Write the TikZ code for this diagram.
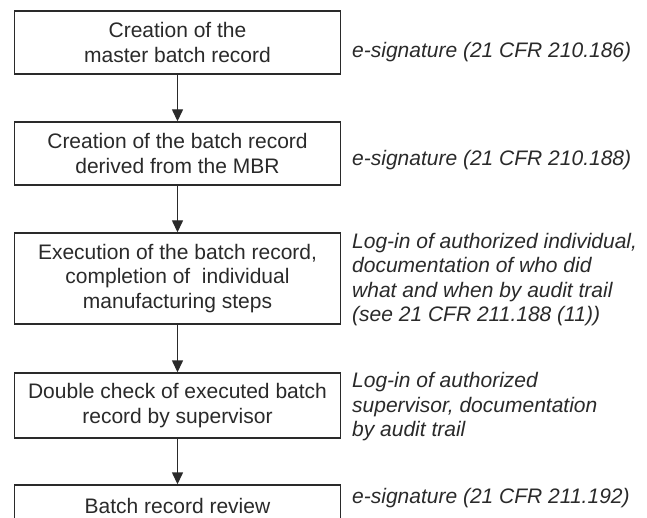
\documentclass[tikz,border=0pt]{standalone}
\usepackage{fontspec}
\setmainfont{Liberation Sans}
\usetikzlibrary{arrows.meta}
\definecolor{ink}{HTML}{2A2A2A}
\tikzset{
  stepbox/.style={draw=ink, line width=1.4pt, text=ink, minimum width=325.5pt, inner sep=0pt, align=center,
    font=\fontsize{21}{24.5}\selectfont},
  note/.style={anchor=west, inner sep=0pt, text=ink, align=left,
    font=\fontsize{21}{24.5}\selectfont\itshape},
  arr/.style={draw=ink, line width=1.4pt, -{Triangle[width=11pt,length=12pt]}}
}
\begin{document}
\begin{tikzpicture}[x=1pt,y=-1pt]
\useasboundingbox (0,0) rectangle (647,518);
\clip (0,0) rectangle (647,518);
\fill[white] (0,0) rectangle (647,518);
\node[stepbox, minimum height=63pt] (b1) at (177.5,42.5) {Creation of the\\master batch record};
\node[stepbox, minimum height=63pt] (b2) at (177.5,153.5) {Creation of the batch record\\derived from the MBR};
\node[stepbox, minimum height=91pt] (b3) at (177.5,278.5) {Execution of the batch record,\\completion of\ \ individual\\manufacturing steps};
\node[stepbox, minimum height=65pt] (b4) at (177.5,405.5) {Double check of executed batch\\record by supervisor};
\node[stepbox, minimum height=41pt] (b5) at (177.5,505.5) {Batch record review};
\draw[arr] (b1) -- (b2);
\draw[arr] (b2) -- (b3);
\draw[arr] (b3) -- (b4);
\draw[arr] (b4) -- (b5);
\node[note] (n1) at (352,52) {e-signature (21 CFR 210.186)};
\node[note] (n2) at (352,160) {e-signature (21 CFR 210.188)};
\node[note] (n3) at (352,279.5) {Log-in of authorized individual,\\documentation of who did\\what and when by audit trail\\(see 21 CFR 211.188 (11))};
\node[note] (n4) at (352,407) {Log-in of authorized\\supervisor, documentation\\by audit trail};
\node[note] (n5) at (352,498) {e-signature (21 CFR 211.192)};
\end{tikzpicture}
\end{document}
